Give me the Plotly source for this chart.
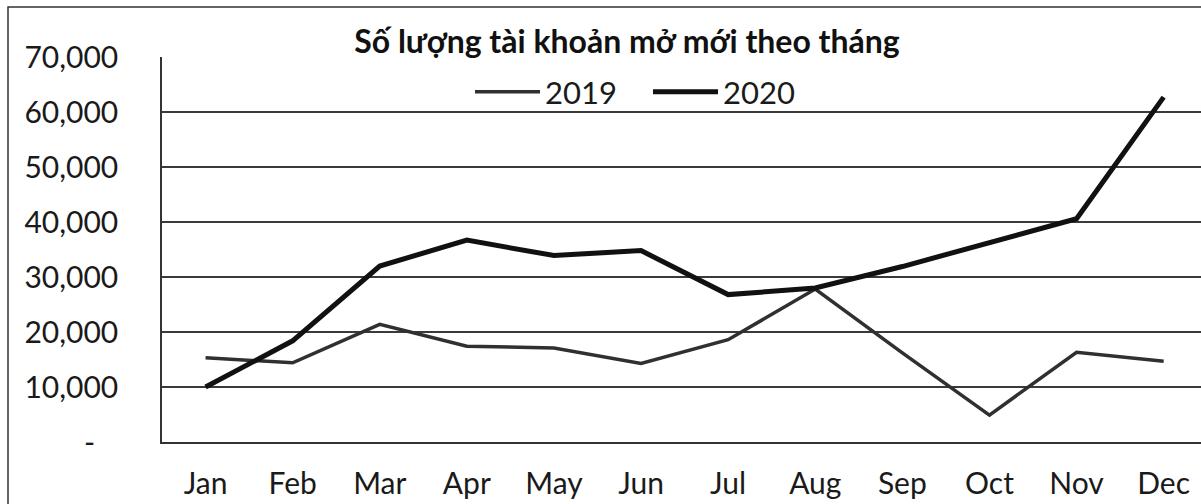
import plotly.graph_objects as go

months = ["Jan", "Feb", "Mar", "Apr", "May", "Jun", "Jul", "Aug", "Sep", "Oct", "Nov", "Dec"]
y2019 = [15300, 14400, 21400, 17400, 17100, 14300, 18600, 27800, 16200, 4900, 16300, 14700]
y2020 = [10000, 18400, 32000, 36700, 33900, 34800, 26800, 28000, 31900, 36300, 40600, 62700]
ytick_vals = [0, 10000, 20000, 30000, 40000, 50000, 60000, 70000]
ytick_text = ["-\u00a0\u00a0\u00a0", "10,000", "20,000", "30,000", "40,000", "50,000", "60,000", "70,000"]

FONT = "Lato"
W, H = 1201, 504
L, T, B = 162, 57, 62

fig = go.Figure()
fig.add_trace(go.Scatter(x=months, y=y2019, mode="lines", name="2019",
                         line=dict(color="#303030", width=3.5)))
fig.add_trace(go.Scatter(x=months, y=y2020, mode="lines", name="2020",
                         line=dict(color="#111111", width=5)))

fig.update_layout(
    width=W, height=H,
    margin=dict(l=L, r=0, t=T, b=B),
    paper_bgcolor="white", plot_bgcolor="white",
    font=dict(family=FONT, color="#1a1a1a", size=30),
    title=dict(text="<b>Số lượng tài khoản mở mới theo tháng</b>",
               x=627 / W, xanchor="center", xref="container",
               y=1 - 42 / H, yanchor="middle", yref="container",
               font=dict(family=FONT, size=32, color="#111111")),
    showlegend=True,
    legend=dict(orientation="h", x=(470 - L) / (W - L), xanchor="left",
                y=1 - (92 - T) / (H - T - B), yanchor="middle",
                bgcolor="rgba(0,0,0,0)", font=dict(size=31),
                itemwidth=65, entrywidth=98),
)
fig.update_xaxes(
    type="category", range=[-0.5, (W - L) / 87.1 - 0.5],
    showgrid=False, showline=True, linecolor="#333333", linewidth=1.5,
    ticks="", ticklabelstandoff=14, tickfont=dict(size=30),
)
fig.update_yaxes(
    range=[0, 70000], tickvals=ytick_vals, ticktext=ytick_text,
    showgrid=True, gridcolor="#3a3a3a", gridwidth=1.5,
    showline=True, linecolor="#333333", linewidth=1.5,
    zeroline=False, ticks="", ticklabelstandoff=36, tickfont=dict(size=30),
)
# outer chart border (scan frame)
fig.add_shape(type="path", xref="paper", yref="paper",
              path="M %f,%f L %f,%f L %f,%f" % (
                  (8 - L) / (W - L), -0.4,
                  (8 - L) / (W - L), 1 + (T - 7) / (H - T - B),
                  1.0, 1 + (T - 7) / (H - T - B)),
              line=dict(color="#333333", width=1.5), layer="above")

fig.write_html("out.html", post_script="document.body.style.margin='0';",
               config={"displayModeBar": False})
